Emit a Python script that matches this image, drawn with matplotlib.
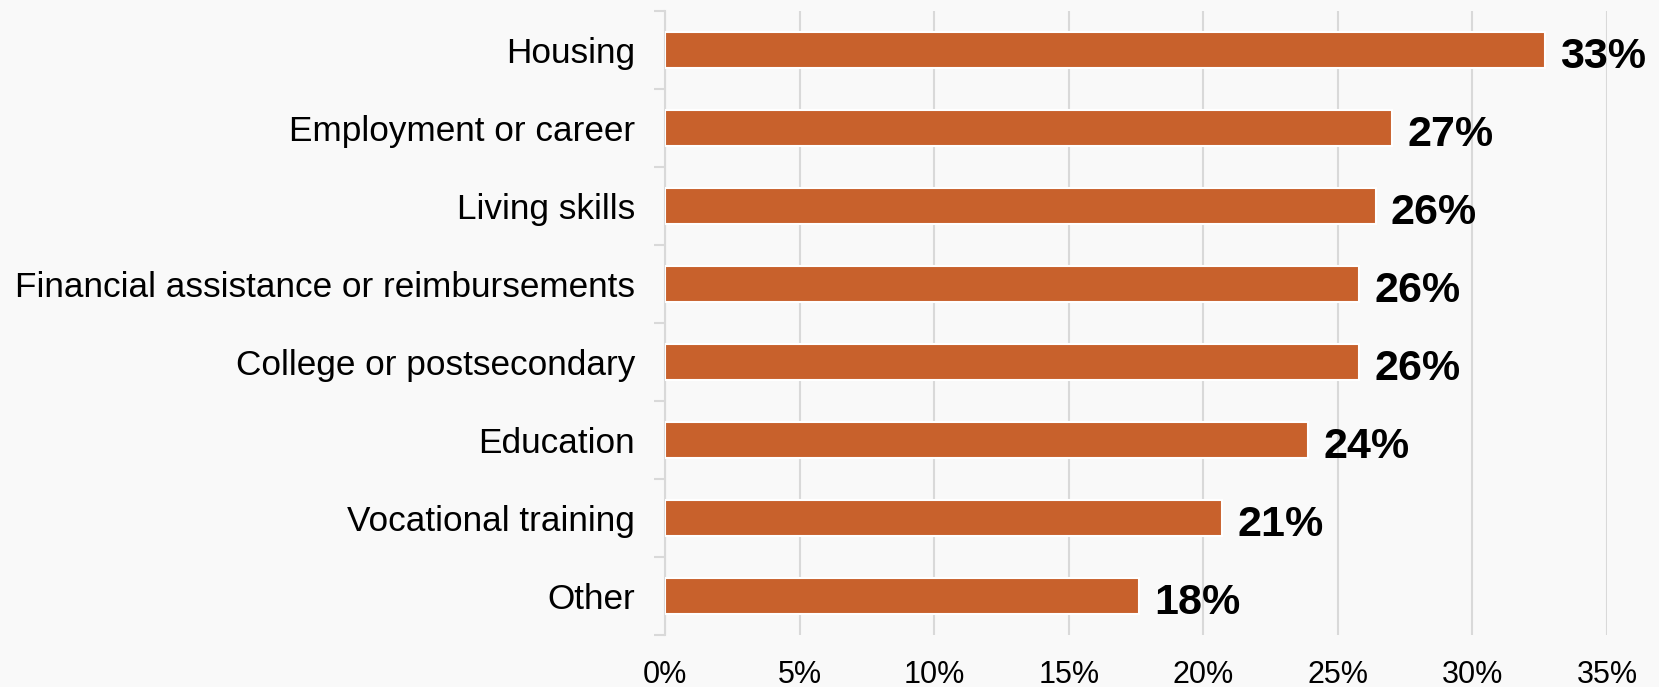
import matplotlib
matplotlib.use("Agg")
import matplotlib.pyplot as plt
import numpy as np

categories = ["Housing", "Employment or career", "Living skills",
              "Financial assistance or reimbursements", "College or postsecondary",
              "Education", "Vocational training", "Other"]
values = [32.7, 27.0, 26.4, 25.8, 25.8, 23.9, 20.7, 17.6]
value_labels = ["33%", "27%", "26%", "26%", "26%", "24%", "21%", "18%"]
xticks = [0, 5, 10, 15, 20, 25, 30, 35]
xtick_labels = ["0%", "5%", "10%", "15%", "20%", "25%", "30%", "35%"]

plt.rcParams['font.family'] = ['Liberation Sans', 'DejaVu Sans']

bg = '#F9F9F9'
grid_c = '#D9D9D9'
bar_c = '#C8612C'

fig = plt.figure(figsize=(16.59, 6.87), dpi=100, facecolor=bg)
ax = fig.add_axes([0.4008, 0.0757, 0.9687 - 0.4008, 0.984 - 0.0757])
ax.set_facecolor(bg)

n = len(categories)
y = np.arange(n)
ax.barh(y, values, height=0.46, color=bar_c, edgecolor='white', linewidth=1.5, zorder=3)

ax.set_xlim(0, 35)
ax.set_ylim(n - 0.5, -0.5)
ax.set_xticks(xticks)
ax.set_xticklabels(xtick_labels, fontsize=22)
ax.tick_params(axis='x', length=0, pad=18)

ax.set_yticks(y)
ax.set_yticklabels(categories, fontsize=25.3)
ax.tick_params(axis='y', which='major', length=0, pad=21.5)
ax.set_yticks(np.arange(n + 1) - 0.5, minor=True)
ax.tick_params(axis='y', which='minor', length=8, width=1.5, color=grid_c, direction='out')

ax.grid(axis='x', color=grid_c, linewidth=1.5, zorder=0)
ax.set_axisbelow(True)
for s in ['top', 'right', 'bottom']:
    ax.spines[s].set_visible(False)
ax.spines['left'].set_color(grid_c)
ax.spines['left'].set_linewidth(1.5)

for yi, v, lab in zip(y, values, value_labels):
    ax.annotate(lab, xy=(v, yi), xytext=(11, -1.5), textcoords='offset points',
                ha='left', va='center_baseline', fontsize=31, fontweight='bold', color='black', zorder=4)

fig.savefig('out.png', dpi=100, facecolor=bg)
